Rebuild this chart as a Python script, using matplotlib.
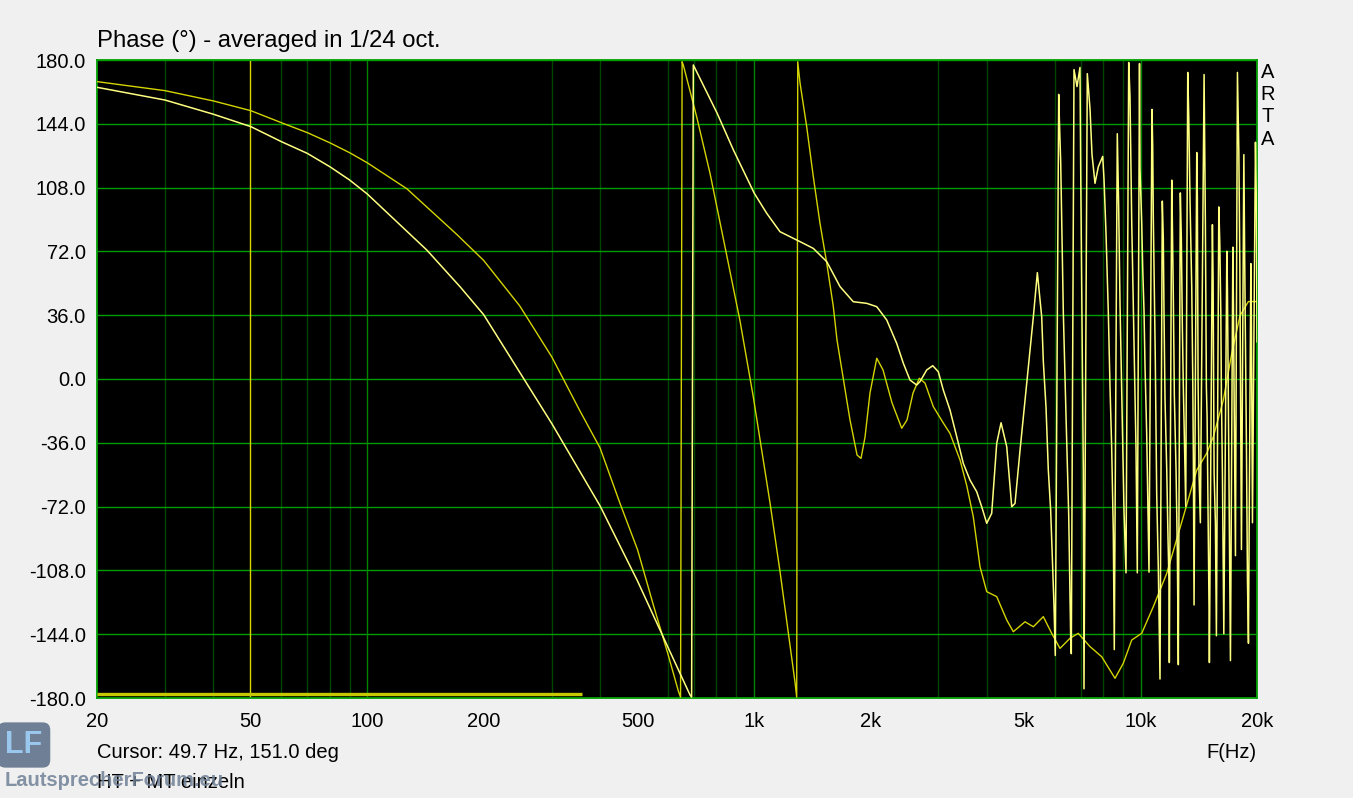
import numpy as np
import matplotlib
matplotlib.use('Agg')
import matplotlib.pyplot as plt
from matplotlib.ticker import FixedLocator, FuncFormatter, NullFormatter

plt.rcParams['font.family'] = ['Liberation Sans', 'DejaVu Sans']

# curve 1 (darker yellow)
freq_a = [20, 30, 40, 50, 60, 70, 80, 90, 100, 126.5, 170, 200, 248, 300, 355, 400, 451, 500,
          550, 600, 638, 646, 652, 657, 711, 770, 850, 920, 996, 1100, 1168, 1277, 1290, 1298,
          1316, 1369, 1424, 1482, 1543, 1604, 1640, 1700, 1738, 1772, 1848, 1892, 1938, 1996,
          2078, 2157, 2276, 2411, 2488, 2579, 2677, 2770, 2910, 3088, 3214, 3412, 3550, 3692,
          3843, 4000, 4245, 4506, 4686, 5025, 5280, 5603, 5889, 6188, 6568, 6899, 7399, 7932,
          8586, 9021, 9484, 10066, 10785, 11683, 12896, 13969, 14826, 15420, 16367, 17207,
          18080, 18998, 20000]
phase_a = [167.8, 162.7, 156.9, 151.4, 144.6, 139.0, 133.3, 127.7, 122.0, 107.4, 81.8, 66.9,
           41.2, 12.5, -18.1, -38.9, -70.5, -96.3, -127.9, -155.6, -176.3, -179.5, 179.0, 177.0,
           148.0, 116.0, 70.0, 33.0, -10.0, -69.6, -108.6, -171.0, -179.5, 179.0, 167.0, 142.4,
           114.2, 87.8, 65.3, 41.0, 22.0, 1.1, -11.9, -23.1, -42.9, -44.8, -32.7, -7.9, 11.7,
           5.1, -13.5, -27.8, -23.1, -7.9, 0.4, -2.3, -15.6, -24.8, -30.7, -45.7, -60.0, -77.7,
           -105.9, -120.0, -122.8, -136.0, -142.6, -137.0, -139.8, -134.1, -143.5, -152.0,
           -146.3, -143.5, -151.0, -156.7, -168.9, -160.4, -147.3, -143.5, -128.5, -109.7,
           -77.7, -51.4, -41.9, -32.6, -11.9, 14.4, 35.8, 43.7, 43.7]

# curve 2 (light yellow)
freq_b = [20, 30, 40, 50, 60, 70, 80, 90, 100, 142.5, 173.7, 200, 253, 300, 400, 500, 600, 683.5, 690,
          697, 803, 885, 1002, 1079, 1168, 1316, 1424, 1543, 1670, 1807, 1957, 2078, 2205, 2340,
          2434, 2533, 2636, 2688, 2798, 2900, 2998, 3088, 3214, 3346, 3479, 3620, 3768, 3882,
          4000, 4120, 4245, 4356, 4506, 4642, 4734, 4878, 5077, 5280, 5407, 5549, 5603, 5693,
          5771, 5854, 5925, 5971, 6017,
          6140, 6162, 6214, 6311, 6413, 6517, 6595, 6619,
          6726, 6848, 6970, 7000, 7109, 7138,
          7280, 7399, 7487, 7622, 7773, 7980, 8042, 8138, 8250, 8334, 8419, 8499, 8550,
          8704, 8777, 8846, 8951, 9059, 9167,
          9316, 9388, 9484, 9615, 9730, 9805,
          9935, 9964, 10066, 10126, 10205, 10266, 10370, 10432, 10469, 10513,
          10702, 10747, 10785, 10850, 10914, 10960, 11006, 11112, 11225,
          11380, 11448, 11496, 11565, 11683, 11774, 11845, 11866,
          12037, 12080, 12152, 12225, 12349, 12445, 12519,
          12669, 12745, 12821, 12898, 13029, 13084,
          13241, 13320, 13424, 13561, 13642, 13691, 13748,
          13971, 14021, 14080, 14164, 14274,
          14594, 14707, 14795, 14857, 14946, 15035, 15062,
          15335, 15399, 15491, 15612, 15705,
          15932, 16027, 16123, 16181, 16278, 16375, 16414,
          16711, 16771, 16942, 17074,
          17320, 17382, 17455, 17591,
          17801, 17950, 18057, 18165, 18230,
          18493, 18603, 18781, 18894, 19007,
          19281, 19350, 19466,
          19817, 19935, 20000]
phase_b = [164.6, 157.4, 149.4, 142.4, 133.9, 127.3, 119.8, 112.3, 104.4, 72.8, 52.1, 36.3, 0.7, -25.1,
           -71.6, -114.0, -151.6, -178.3, -179.5, 177.2, 150.0, 129.2, 104.8, 93.5, 83.1, 77.5,
           73.7, 66.2, 52.1, 43.6, 42.7, 40.8, 33.3, 20.1, 8.9, -0.6, -3.4, -1.5, 5.1, 7.5, 4.1,
           -6.2, -17.5, -32.6, -47.6, -57.0, -63.6, -72.1, -81.4, -75.8, -36.3, -24.7, -38.2,
           -72.1, -70.2, -40.1, -2.4, 35.1, 60.0, 35.1, 9.9, -15.8, -51.0, -74.3, -107.0, -128.1,
           -156.0,
           160.6, 147.8, 122.0, 37.9, -20.5, -76.6, -146.7, -155.0,
           174.6, 165.0, 175.8, 117.4, -51.0, -174.8,
           172.3, 152.4, 126.7, 110.4, 119.7, 125.6, 112.7, 82.3, 37.9, -4.2, -39.2, -86.0, -152.7,
           138.4, 96.3, 42.6, -15.9, -74.3, -109.4,
           178.6, 159.5, 89.3, 19.2, -39.2, -109.4,
           178.0, 118.5, 88.3, 62.8, 38.4, 7.1, -31.2, -64.9, -88.1, -109.0,
           152.1, 131.2, 91.8, 52.3, 11.7, -27.7, -64.9, -106.6, -169.3,
           100.4, 79.0, 37.2, -11.5, -50.9, -90.4, -115.9, -160.0,
           112.2, 89.5, 46.5, -9.2, -50.9, -97.4, -161.2,
           105.0, 79.0, 30.3, -4.5, -50.9, -71.8,
           173.0, 148.6, 99.9, 51.2, 0.1, -44.0, -127.5,
           127.8, 102.2, 0.1, -54.4, -81.1,
           171.8, 88.3, -4.5, -20.8, -76.5, -132.2, -160.0,
           87.1, 55.8, -53.3, -81.1, -144.9,
           97.1, 76.7, 37.2, -9.2, -53.3, -113.6, -143.8,
           72.1, 51.2, -67.1, -158.9,
           74.4, 41.9, -11.5, -99.7,
           173.0, 127.8, 65.1, -39.3, -96.2,
           126.6, 58.1, -37.7, -113.1, -149.1,
           65.1, 30.3, -81.1,
           133.6, 96.4, 21.0]

cursor_freq = 49.7
bar_freq = [20, 360]
bar_phase = [-178, -178]

major_ticks = [20, 50, 100, 200, 500, 1000, 2000, 5000, 10000, 20000]
major_labels = ['20', '50', '100', '200', '500', '1k', '2k', '5k', '10k', '20k']
minor_ticks = [30, 40, 50, 60, 70, 80, 90, 200, 300, 400, 500, 600, 700, 800, 900,
               2000, 3000, 4000, 5000, 6000, 7000, 8000, 9000]
decades = [100, 1000, 10000]
y_ticks = np.arange(-180, 181, 36)

W, H = 1353, 798
fig = plt.figure(figsize=(W / 100, H / 100), dpi=100, facecolor='#f0f0f0')
ax = fig.add_axes([97 / W, 1 - 698 / H, 1160 / W, 638 / H])
ax.set_facecolor('black')
ax.set_xscale('log')
ax.set_xlim(20, 20000)
ax.set_ylim(-180, 180)

ax.xaxis.set_major_locator(FixedLocator(major_ticks))
ax.xaxis.set_minor_locator(FixedLocator(minor_ticks))
ax.xaxis.set_major_formatter(FuncFormatter(lambda v, p: dict(zip(major_ticks, major_labels)).get(int(round(v)), '')))
ax.xaxis.set_minor_formatter(NullFormatter())
ax.set_yticks(y_ticks)
ax.yaxis.set_major_formatter(FuncFormatter(lambda v, p: '%.1f' % v))
ax.tick_params(axis='both', which='both', length=0, labelsize=14.5, colors='black')
ax.tick_params(axis='x', pad=10)
ax.tick_params(axis='y', pad=8)

ax.grid(which='minor', axis='x', color='#004600', lw=1.0)
ax.grid(which='major', axis='y', color='#009c00', lw=1.0)
for d in decades:
    ax.axvline(d, color='#008400', lw=1.0, zorder=0.9)
ax.set_axisbelow(True)
for s in ax.spines.values():
    s.set_color('#00a000')
    s.set_linewidth(1.3)

ax.plot(bar_freq, bar_phase, color='#c8c800', lw=2.4, solid_capstyle='butt', zorder=3)
ax.axvline(cursor_freq, color='#d8d800', lw=1.0, zorder=2)
ax.plot(freq_a, phase_a, color='#d4d400', lw=1.0, zorder=4)
ax.plot(freq_b, phase_b, color='#ffff80', lw=1.1, zorder=5)

fig.text(97 / W, 1 - 41 / H, 'Phase (°) - averaged in 1/24 oct.', fontsize=17.2, va='center', ha='left')
for i, ch in enumerate('ARTA'):
    fig.text(1268 / W, 1 - (72 + i * 22.5) / H, ch, fontsize=14.5, va='center', ha='center')
fig.text(97 / W, 1 - 752 / H, 'Cursor: 49.7 Hz, 151.0 deg', fontsize=14.5, va='center', ha='left')
fig.text(1257 / W, 1 - 752 / H, 'F(Hz)', fontsize=14.5, va='center', ha='right')
fig.text(97 / W, 1 - 782 / H, 'HT + MT einzeln', fontsize=14.5, va='center', ha='left')

# watermark
fig.text(24 / W, 1 - 745 / H, 'LF', fontsize=22, fontweight='bold', color='#9fd0f8', ha='center', va='center',
         bbox=dict(boxstyle='round,pad=0.25', fc='#6f8096', ec='none'), alpha=0.9)
fig.text(5 / W, 1 - 780 / H, 'LautsprecherForum.eu', fontsize=14.5, fontweight='bold',
         color='#6f8096', ha='left', va='center', alpha=0.85)

fig.savefig('out.png', dpi=100, facecolor=fig.get_facecolor())
